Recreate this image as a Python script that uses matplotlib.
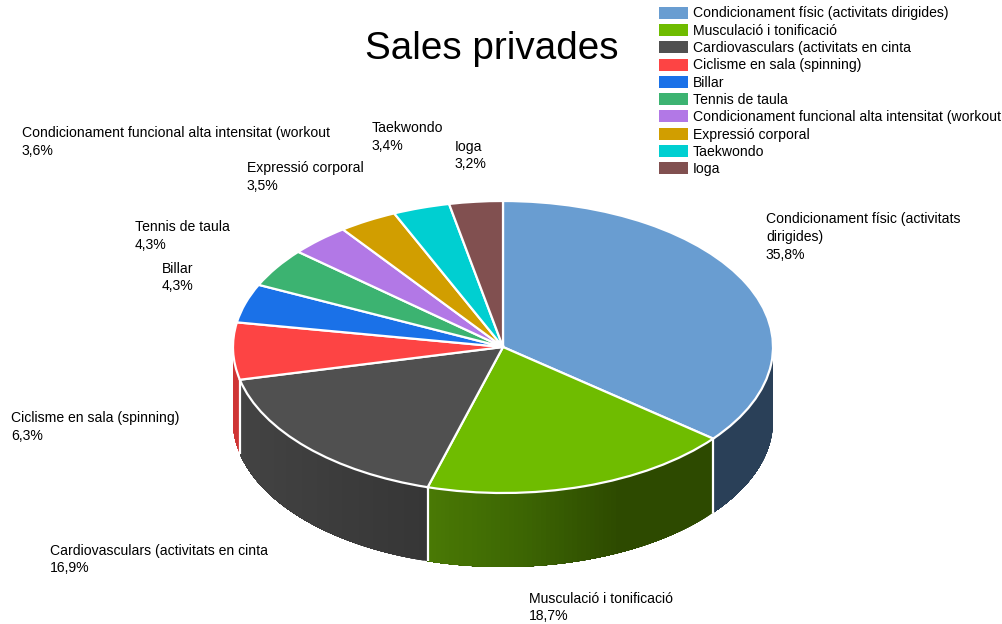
import numpy as np
import matplotlib
matplotlib.use("Agg")
import matplotlib.pyplot as plt
from matplotlib.colors import to_rgb
from matplotlib.patches import Polygon, Patch

plt.rcParams["font.family"] = ["Liberation Sans", "DejaVu Sans"]

# Activity names and their share of the private rooms (percent)
categories = [
    "Condicionament físic (activitats dirigides)",
    "Musculació i tonificació",
    "Cardiovasculars (activitats en cinta",
    "Ciclisme en sala (spinning)",
    "Billar",
    "Tennis de taula",
    "Condicionament funcional alta intensitat (workout",
    "Expressió corporal",
    "Taekwondo",
    "Ioga",
]
values = [35.8, 18.7, 16.9, 6.3, 4.3, 4.3, 3.6, 3.5, 3.4, 3.2]
title = "Sales privades"

top_colors = ["#699dd1", "#6fbc00", "#505050", "#fd4444", "#1a71e8",
              "#3cb371", "#b278e6", "#d19e00", "#00cfd1", "#815050"]
# Side wall shading: (fraction along the slice, colour) stops, left to right on screen
wall_stops = {
    0: [(0.0, "#2a4058"), (1.0, "#2a4058")],
    1: [(0.0, "#4a7a05"), (0.35, "#3c6503"), (0.68, "#2d4a00"), (1.0, "#2d4a00")],
    2: [(0.0, "#434343"), (0.6, "#3b3b3b"), (1.0, "#363636")],
    3: [(0.0, "#cf3535"), (1.0, "#cf3535")],
}

# Label text wrapping and centre position on the canvas (px)
label_wrap = {0: "Condicionament físic (activitats\ndirigides)"}
label_pos = [(766, 237), (529, 607.5), (50, 559.5), (11, 427), (162, 277.5),
             (135, 236), (22, 142), (247, 177), (372, 137), (455, 155.5)]

W, H = 1003, 624
CX, CY, RX, RY, DEPTH = 503, 347, 270, 146, 74

fig = plt.figure(figsize=(W / 100, H / 100), dpi=100, facecolor="white")
ax = fig.add_axes([(CX - RX) / W, 1 - (CY + RY) / H, 2 * RX / W, 2 * RY / H])

wedges, _ = ax.pie(values, colors=top_colors, startangle=90, counterclock=False,
                   radius=1, wedgeprops=dict(edgecolor="white", linewidth=1.6, zorder=5))
ax.set_aspect("auto")
ax.set_xlim(-1, 1)
ax.set_ylim(-1, 1)
for w in wedges:
    w.set_clip_on(False)

depth = DEPTH / RY
edges = 90 - 360 * np.cumsum([0] + values) / np.sum(values)


def shade(stops, f):
    pos = [s[0] for s in stops]
    rgb = np.array([to_rgb(s[1]) for s in stops])
    return tuple(np.interp(f, pos, rgb[:, i]) for i in range(3))


# Side wall of every slice facing the viewer; each band is painted over the
# rest of the arc so that no seams appear between neighbouring shades
for i, (a0, a1) in enumerate(zip(edges[:-1], edges[1:])):
    lo = max(a1, -180)
    hi = min(a0, 0)
    if lo >= hi:
        continue
    angles = np.radians(np.linspace(hi, lo, 70))
    x = np.cos(angles)
    y = np.sin(angles)
    stops = wall_stops[i]
    for k in range(len(angles) - 1):
        f = (x[0] - x[k]) / (x[0] - x[-1])
        outline = list(zip(x[k:], y[k:])) + list(zip(x[k:][::-1], y[k:][::-1] - depth))
        ax.add_patch(Polygon(outline, closed=True, facecolor=shade(stops, 1 - f),
                             edgecolor="none", zorder=2, clip_on=False))
    # White seam where two walls meet
    if a1 > -180:
        xe, ye = np.cos(np.radians(a1)), np.sin(np.radians(a1))
        ax.plot([xe, xe], [ye, ye - depth], color="white", lw=1.6, zorder=3,
                clip_on=False, solid_capstyle="butt")

fig.text(491.5 / W, 1 - 49 / H, title, fontsize=27.8, ha="center", va="center", color="black")

for i, (name, v, (px, py)) in enumerate(zip(categories, values, label_pos)):
    text = label_wrap.get(i, name) + "\n" + f"{v:.1f}".replace(".", ",") + "%"
    fig.text(px / W, 1 - py / H, text, fontsize=10.1, ha="left", va="center",
             color="black", linespacing=1.32)

handles = [Patch(facecolor=c, edgecolor="none") for c in top_colors]
fig.legend(handles, categories, loc="upper left",
           bbox_to_anchor=(659 / W, 1 - 6.5 / H), borderaxespad=0, borderpad=0,
           frameon=False, fontsize=10.1, handlelength=2.09, handleheight=0.93,
           handletextpad=0.33, labelspacing=0.235)

fig.savefig("out.png", dpi=100, facecolor="white")
